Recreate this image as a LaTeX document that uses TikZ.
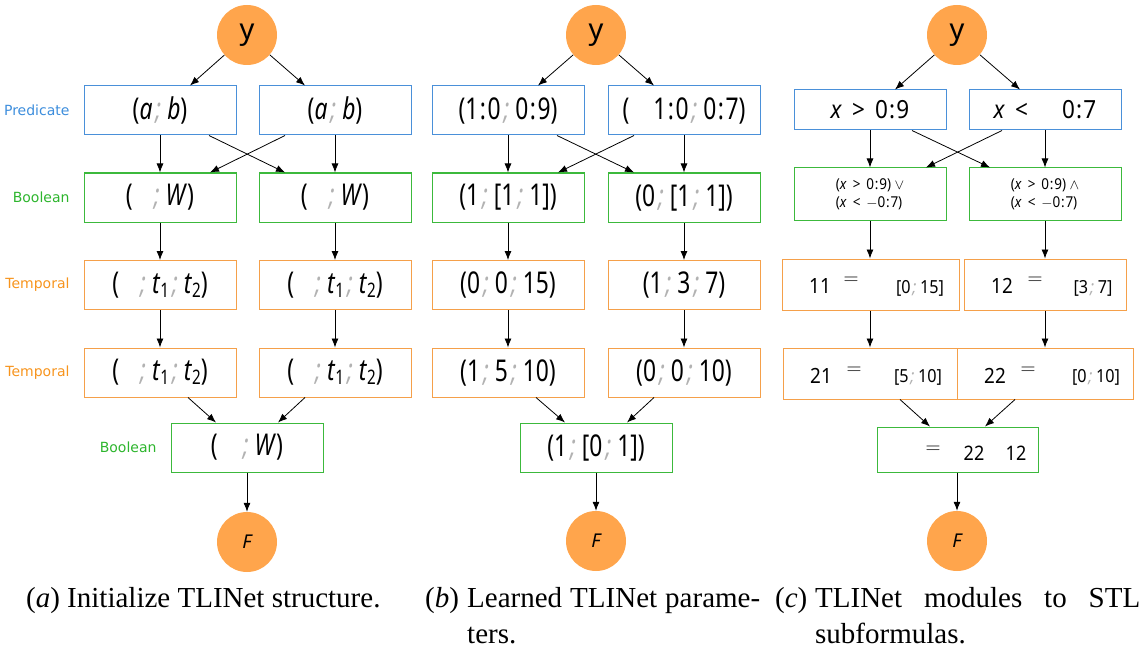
\documentclass[tikz,border=0pt]{standalone}
\usepackage{fontspec}
\setmainfont{Liberation Serif}
\newfontfamily\nodefont[FakeStretch=0.76]{Noto Sans}
\newfontfamily\cfont[FakeStretch=0.9]{Noto Sans}
\newfontfamily\circfont{Noto Sans}
\newfontfamily\labfont{DejaVu Sans}
\usetikzlibrary{arrows.meta}
\definecolor{cblue}{HTML}{4A90D9}
\definecolor{cgreen}{HTML}{3CB93C}
\definecolor{corange}{HTML}{F5A04A}
\definecolor{cfill}{HTML}{FFA54C}
\definecolor{lblblue}{HTML}{3C8DDC}
\definecolor{lblgreen}{HTML}{2DB52D}
\definecolor{lblorange}{HTML}{F7941D}
\newcommand{\sm}{\hspace{0.1em}{\color{gray!60}\itshape;}\hspace{0.2em}}
\newcommand{\cl}{\hspace{0.05em}:\hspace{0.05em}}
\newcommand{\tsub}[1]{\textit{t}\raisebox{-4pt}{\fontsize{20}{20}\selectfont #1}}
\begin{document}
\begin{tikzpicture}[x=1pt,y=-1pt,
 box/.style={draw, line width=1pt, minimum width=152pt, minimum height=49pt, inner sep=0pt, font=\nodefont\fontsize{30}{32}\selectfont},
 pbox/.style={box, draw=cblue},
 bbox/.style={box, draw=cgreen},
 tbox/.style={box, draw=corange},
 circ/.style={circle, fill=cfill, minimum size=60pt, inner sep=0pt, font=\circfont\fontsize{29}{30}\selectfont},
 fcirc/.style={circ, font=\circfont\itshape\fontsize{19}{20}\selectfont},
 arr/.style={-{Latex[length=9pt,width=7pt]}, line width=0.8pt},
 side/.style={font=\labfont\fontsize{14}{16}\selectfont, anchor=east},
 captxt/.style={font=\fontsize{29}{32}\selectfont, anchor=base west, inner sep=0pt},
 inner/.style={font=\cfont\fontsize{21}{24}\selectfont, inner sep=0pt},
 innersm/.style={font=\cfont\fontsize{18}{20}\selectfont, inner sep=0pt},
 cbox/.style={font=\cfont\fontsize{25}{28}\selectfont},
 cbool/.style={minimum height=52pt, align=left, font=\cfont\fontsize{15}{18.5}\selectfont},
]
\useasboundingbox (0,0) rectangle (1146,650);
% ---------------- panel a
\node[circ] (ya) at (247,35) {y};
\node[pbox] (pa1) at (160,110.5) {(\textit{a}\sm\textit{b})};
\node[pbox] (pa2) at (335,110.5) {(\textit{a}\sm\textit{b})};
\node[bbox] (ba1) at (160,197.5) {(\hspace{18pt}\sm\textit{W})};
\node[bbox] (ba2) at (335,197.5) {(\hspace{18pt}\sm\textit{W})};
\node[tbox] (ta1) at (160,285) {(\hspace{18pt}\sm\tsub{1}\sm\tsub{2})};
\node[tbox] (ta2) at (335,285) {(\hspace{18pt}\sm\tsub{1}\sm\tsub{2})};
\node[tbox] (ua1) at (160,372.5) {(\hspace{18pt}\sm\tsub{1}\sm\tsub{2})};
\node[tbox] (ua2) at (335,372.5) {(\hspace{18pt}\sm\tsub{1}\sm\tsub{2})};
\node[bbox] (fa) at (247,447.5) {(\hspace{22pt}\sm\textit{W})};
\node[fcirc] (Fa) at (247,542) {F};
\node[side, text=lblblue] (la1) at (73,110.5) {Predicate};
\node[side, text=lblgreen] (la2) at (73,197.5) {Boolean};
\node[side, text=lblorange] (la3) at (73,285) {Temporal};
\node[side, text=lblorange] (la4) at (73,372.5) {Temporal};
\node[side, text=lblgreen] (la5) at (160,447.5) {Boolean};
\draw[arr] (ya) -- ([xshift=30pt]pa1.north);
\draw[arr] (ya) -- ([xshift=-30pt]pa2.north);
\draw[arr] (pa1) -- (ba1);
\draw[arr] (pa2) -- (ba2);
\draw[arr] ([xshift=49pt]pa1.south) -- ([xshift=-50pt]ba2.north);
\draw[arr] ([xshift=-50pt]pa2.south) -- ([xshift=50pt]ba1.north);
\draw[arr] (ba1) -- (ta1);
\draw[arr] (ba2) -- (ta2);
\draw[arr] (ta1) -- (ua1);
\draw[arr] (ta2) -- (ua2);
\draw[arr] ([xshift=28pt]ua1.south) -- ([xshift=-31pt]fa.north);
\draw[arr] ([xshift=-30pt]ua2.south) -- ([xshift=31pt]fa.north);
\draw[arr] (fa) -- (Fa);
\node[captxt] (capa) at (26,607) {(\textit{a}) Initialize TLINet structure.};
% ---------------- panel b
\node[circ] (yb) at (596,35) {y};
\node[pbox] (pb1) at (508,110.5) {(1\cl0\sm0\cl9)};
\node[pbox] (pb2) at (684,110.5) {(\hspace{24pt}1\cl0\sm0\cl7)};
\node[bbox] (bb1) at (508,197.5) {(1\sm[1\sm1])};
\node[bbox] (bb2) at (684,197.5) {(0\sm[1\sm1])};
\node[tbox] (tb1) at (508,285) {(0\sm0\sm15)};
\node[tbox] (tb2) at (684,285) {(1\sm3\sm7)};
\node[tbox] (ub1) at (508,372.5) {(1\sm5\sm10)};
\node[tbox] (ub2) at (684,372.5) {(0\sm0\sm10)};
\node[bbox] (fb) at (596,447.5) {(1\sm[0\sm1])};
\node[fcirc] (Fb) at (596,541) {F};
\draw[arr] (yb) -- ([xshift=30pt]pb1.north);
\draw[arr] (yb) -- ([xshift=-30pt]pb2.north);
\draw[arr] (pb1) -- (bb1);
\draw[arr] (pb2) -- (bb2);
\draw[arr] ([xshift=49pt]pb1.south) -- ([xshift=-50pt]bb2.north);
\draw[arr] ([xshift=-50pt]pb2.south) -- ([xshift=50pt]bb1.north);
\draw[arr] (bb1) -- (tb1);
\draw[arr] (bb2) -- (tb2);
\draw[arr] (tb1) -- (ub1);
\draw[arr] (tb2) -- (ub2);
\draw[arr] ([xshift=28pt]ub1.south) -- ([xshift=-31pt]fb.north);
\draw[arr] ([xshift=-30pt]ub2.south) -- ([xshift=31pt]fb.north);
\draw[arr] (fb) -- (Fb);
\node[captxt] (capb1) at (425,607) {(\textit{b})};
\node[captxt] (capb2) at (467,607) {\makebox[293pt][s]{Learned TLINet parame-}};
\node[captxt] (capb3) at (467,643) {ters.};
% ---------------- panel c
\node[circ] (yc) at (957,35) {y};
\node[pbox, cbox, minimum height=40pt] (pc1) at (870,110) {\textit{x} \,>\, 0\cl9};
\node[pbox, cbox, minimum height=40pt] (pc2) at (1045,110) {\textit{x} \,<\hspace{34pt}0\cl7};
\node[bbox, cbool] (bc1) at (870,194) {(\textit{x} \,>\, 0\cl9) $\vee$\\(\textit{x} \,<\, $-$0\cl7)};
\node[bbox, cbool] (bc2) at (1045,194) {(\textit{x} \,>\, 0\cl9) $\wedge$\\(\textit{x} \,<\, $-$0\cl7)};
\node[tbox, minimum width=177pt, minimum height=51pt] (tc1) at (870.5,284.5) {};
\node[tbox, minimum width=162pt, minimum height=51pt] (tc2) at (1045,284.5) {};
\node[tbox, minimum width=174pt, minimum height=51pt] (uc1) at (870,373.5) {};
\node[tbox, minimum width=176pt, minimum height=51pt] (uc2) at (1045,373.5) {};
\node[bbox, minimum width=161pt, minimum height=45pt] (fc) at (957.5,449.5) {};
\node[fcirc] (Fc) at (957,541) {F};
\node[inner] (t11a) at (820,286) {11};
\node[inner] (t11b) at (851,281) {$=$};
\node[innersm] (t11c) at (920,288) {[0\sm15]};
\node[inner] (t12a) at (1002,286) {12};
\node[inner] (t12b) at (1035,281) {$=$};
\node[innersm] (t12c) at (1093,288) {[3\sm7]};
\node[inner] (t21a) at (821,376) {21};
\node[inner] (t21b) at (854,371) {$=$};
\node[innersm] (t21c) at (918,377) {[5\sm10]};
\node[inner] (t22a) at (995,376) {22};
\node[inner] (t22b) at (1028,371) {$=$};
\node[innersm] (t22c) at (1096,377) {[0\sm10]};
\node[inner] (fca) at (933,450) {$=$};
\node[innersm, font=\cfont\fontsize{20}{20}\selectfont] (fcb) at (974,453) {22};
\node[innersm, font=\cfont\fontsize{20}{20}\selectfont] (fcc) at (1016,453) {12};
\draw[arr] (yc) -- ([xshift=25pt]pc1.north);
\draw[arr] (yc) -- ([xshift=-25pt]pc2.north);
\draw[arr] (pc1) -- (bc1);
\draw[arr] (pc2) -- (bc2);
\draw[arr] ([xshift=42pt]pc1.south) -- ([xshift=-55pt]bc2.north);
\draw[arr] ([xshift=-43pt]pc2.south) -- ([xshift=56pt]bc1.north);
\draw[arr] (bc1.south) -- (tc1.north -| bc1.south);
\draw[arr] (bc2) -- (tc2);
\draw[arr] (tc1.south -| bc1.south) -- (uc1.north -| bc1.south);
\draw[arr] (tc2) -- (uc2);
\draw[arr] ([xshift=30pt]uc1.south) -- ([xshift=-27.5pt]fc.north);
\draw[arr] ([xshift=-30pt]uc2.south) -- ([xshift=27.5pt]fc.north);
\draw[arr] (fc.south -| Fc.north) -- (Fc);
\node[captxt] (capc1) at (775,607) {(\textit{c})};
\node[captxt] (capc2) at (815,607) {\makebox[325pt][s]{TLINet modules to STL}};
\node[captxt] (capc3) at (815,643) {subformulas.};
\end{tikzpicture}
\end{document}
